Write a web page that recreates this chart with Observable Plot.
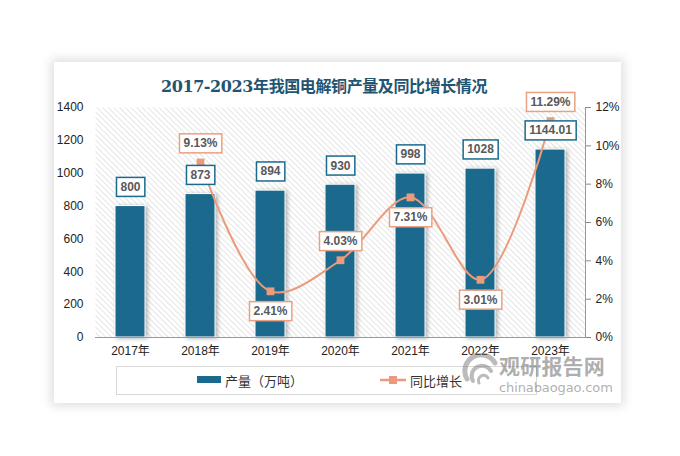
<!DOCTYPE html>
<html><head><meta charset="utf-8">
<script src="https://cdn.jsdelivr.net/npm/d3@7"></script>
<script src="https://cdn.jsdelivr.net/npm/@observablehq/plot@0.6"></script>
<style>
body{margin:0;background:#fff;}
#wrap{position:relative;width:680px;height:456px;overflow:hidden;font-family:"Liberation Sans","Noto Sans CJK SC",sans-serif;}
#card{position:absolute;left:54px;top:62px;width:567px;height:341px;background:#fff;box-shadow:0 0 10px 3px rgba(0,0,0,0.13);}
#chart{position:absolute;left:0;top:0;}
#title{position:absolute;left:0;width:648px;top:73px;text-align:center;font:bold 16px "DejaVu Serif","Noto Sans CJK SC",serif;color:#1f5572;letter-spacing:-0.4px;}
#legend{position:absolute;left:116px;top:366px;width:419px;height:27px;border:1px solid #d9d9d9;font:13px "Noto Sans CJK SC",sans-serif;color:#333;}
.li{position:absolute;top:4px;display:flex;align-items:center;height:18px;}
#wm1{position:absolute;left:499px;top:350px;font:bold 21px "Noto Sans CJK SC",sans-serif;color:rgba(120,120,120,0.6);letter-spacing:0.2px;}
#wm2{position:absolute;left:499px;top:380px;font:13px "DejaVu Sans",sans-serif;color:rgba(120,120,120,0.6);letter-spacing:-0.1px;}
#logo{position:absolute;left:461px;top:353px;}
.bars{filter:drop-shadow(2px 1px 2px rgba(0,0,0,0.3));}
</style></head>
<body>
<div id="wrap">
  <div id="card"></div>
  <div id="chart"></div>
  <div id="title">2017-2023年我国电解铜产量及同比增长情况</div>
  <div id="legend">
    <div class="li" style="left:80px"><svg width="28" height="10"><rect x="0" y="1" width="24" height="7" fill="#1b6a8e"/></svg><span>产量（万吨）</span></div>
    <div class="li" style="left:263px"><svg width="30" height="10"><line x1="0" x2="26" y1="5" y2="5" stroke="#eb9b7b" stroke-width="2.5"/><rect x="9" y="1" width="8" height="8" fill="#eb9b7b"/></svg><span>同比增长</span></div>
  </div>
  <svg id="logo" width="40" height="40" viewBox="0 0 40 40">
    <g fill="none" stroke="rgba(120,120,120,0.5)" stroke-linecap="round">
      <path d="M6 26 A16 16 0 0 1 34 10" stroke-width="5"/>
      <path d="M12 28 A10 10 0 0 1 30 18" stroke-width="4"/>
      <path d="M18 30 A5 5 0 0 1 27 25" stroke-width="3"/>
    </g>
  </svg>
  <div id="wm1">观研报告网</div>
  <div id="wm2">chinabaogao.com</div>
</div>
<script>
const years = ["2017年","2018年","2019年","2020年","2021年","2022年","2023年"];
const production = [800, 873, 894, 930, 998, 1028, 1144.01];
const growth = [null, 9.13, 2.41, 4.03, 7.31, 3.01, 11.29];
const growthLabelPos = [null, "above", "below", "above", "below", "below", "above"];
const leftTicks = [0, 200, 400, 600, 800, 1000, 1200, 1400];
const pctTicks = [0, 2, 4, 6, 8, 10, 12];
const yMax = 1400, pctMax = 12;
const toY = p => p / pctMax * yMax;

const data = years.map((year, i) => ({year, prod: production[i], g: growth[i], pos: growthLabelPos[i]}));
const lineData = data.filter(d => d.g != null);

const barColor = "#1b6a8e", lineColor = "#eb9b7b";

const plot = Plot.plot({
  width: 680, height: 456,
  marginLeft: 95, marginRight: 95, marginTop: 107, marginBottom: 119,
  style: {background: "transparent", fontFamily: '"Liberation Sans","Noto Sans CJK SC",sans-serif', fontSize: "12px", color: "#222", overflow: "visible"},
  x: {domain: years, paddingInner: 0.57, paddingOuter: 0.285, label: null},
  y: {domain: [0, yMax], label: null},
  marks: [
    Plot.frame({fill: "url(#hatch)", stroke: null}),
    Plot.axisY({ticks: leftTicks, tickFormat: d => String(d), tickSize: 0, tickPadding: 12, label: null}),
    Plot.axisY(pctTicks.map(toY), {anchor: "right", tickFormat: d => Math.round(d / yMax * pctMax) + "%", tickSize: 5, tickPadding: 5, stroke: "#888", label: null}),
    Plot.frame({anchor: "right", stroke: "#999"}),
    Plot.barY(data, {x: "year", y: "prod", fill: barColor, stroke: "#fff", strokeWidth: 1, className: "bars"}),
    Plot.ruleY([0], {stroke: "#999", strokeWidth: 1.2}),
    Plot.axisX({tickSize: 0, tickPadding: 9, label: null}),
    Plot.line(lineData, {x: "year", y: d => toY(d.g), stroke: lineColor, strokeWidth: 2, curve: "catmull-rom"}),
    Plot.dot(lineData, {x: "year", y: d => toY(d.g), symbol: "square", r: 4.4, fill: lineColor}),
    Plot.text(data, {x: "year", y: "prod", text: d => String(d.prod), dy: -19, fontWeight: "bold", fill: "#595959", className: "barlbl"}),
    Plot.text(lineData.filter(d => d.pos === "above"), {x: "year", y: d => toY(d.g), text: d => d.g.toFixed(2) + "%", dy: -19, fontWeight: "bold", fill: "#595959", className: "glbl"}),
    Plot.text(lineData.filter(d => d.pos === "below"), {x: "year", y: d => toY(d.g), text: d => d.g.toFixed(2) + "%", dy: 20, fontWeight: "bold", fill: "#595959", className: "glbl"})
  ]
});

document.getElementById("chart").appendChild(plot);

// hatch pattern for plot area background
const svg = d3.select(plot);
const defs = svg.insert("defs", ":first-child");
const pat = defs.append("pattern").attr("id", "hatch").attr("patternUnits", "userSpaceOnUse")
  .attr("width", 4).attr("height", 4).attr("patternTransform", "rotate(-45)");
pat.append("rect").attr("width", 4).attr("height", 4).attr("fill", "#fff");
pat.append("line").attr("x1", 0).attr("y1", 0).attr("x2", 0).attr("y2", 4).attr("stroke", "#d4d4d4").attr("stroke-width", 1.2);

// boxes behind labels
function boxes(cls, color) {
  svg.selectAll("g." + cls).each(function() {
    d3.select(this).selectAll("text").each(function() {
      const b = this.getBBox();
      const padX = 4, padY = 2.5;
      d3.select(this.parentNode).insert("rect", () => this)
        .attr("x", b.x - padX).attr("y", b.y - padY)
        .attr("width", b.width + 2 * padX).attr("height", b.height + 2 * padY)
        .attr("fill", "#fff").attr("stroke", color).attr("stroke-width", 1.5)
        .attr("transform", this.getAttribute("transform"));
    });
  });
}
boxes("barlbl", barColor);
boxes("glbl", "#e9a181");
</script>
</body></html>
